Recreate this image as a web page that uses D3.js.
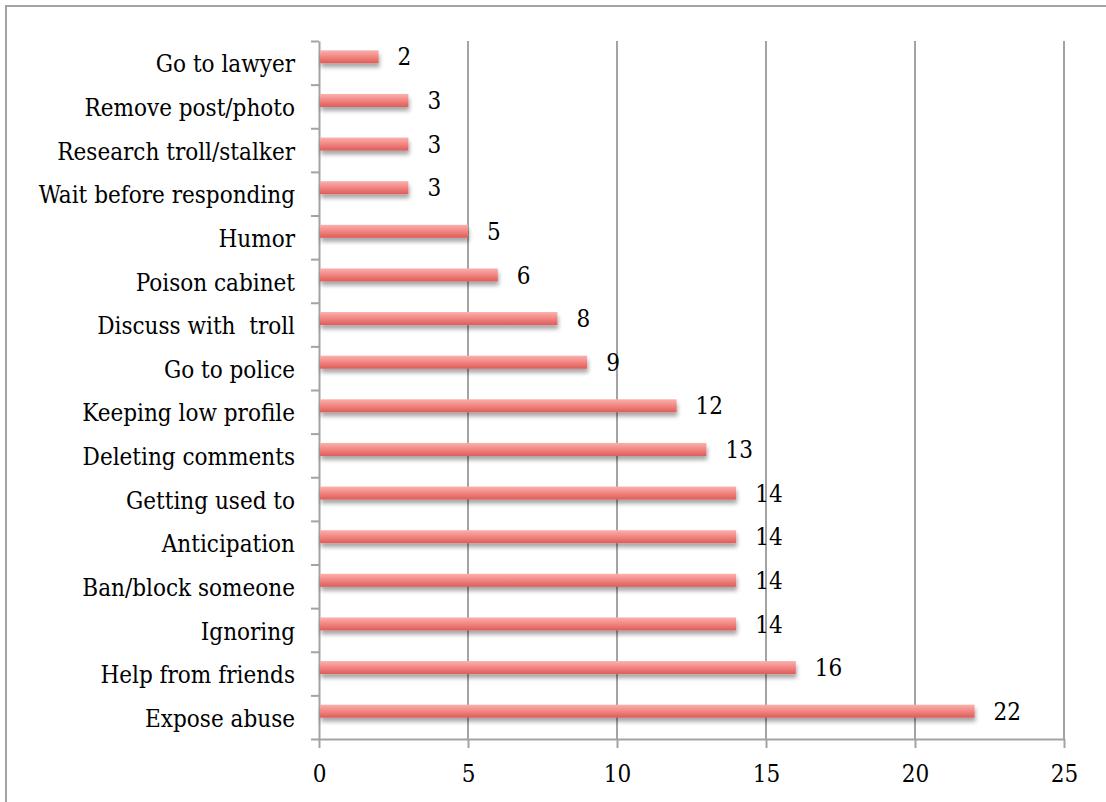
<!DOCTYPE html>
<html>
<head>
<meta charset="utf-8">
<script src="https://cdn.jsdelivr.net/npm/d3@7"></script>
<style>
  html, body { margin: 0; padding: 0; background: #fff; }
  svg { display: block; }
  text { font-family: "DejaVu Serif Condensed", "DejaVu Serif", serif; fill: #000; white-space: pre; }
</style>
</head>
<body>
<svg id="chart" width="1106" height="802"></svg>
<script>
// Coping strategies (top to bottom) and how many respondents mentioned each
const categories = [
  "Go to lawyer", "Remove post/photo", "Research troll/stalker", "Wait before responding",
  "Humor", "Poison cabinet", "Discuss with  troll", "Go to police",
  "Keeping low profile", "Deleting comments", "Getting used to", "Anticipation",
  "Ban/block someone", "Ignoring", "Help from friends", "Expose abuse"
];
const counts = [2, 3, 3, 3, 5, 6, 8, 9, 12, 13, 14, 14, 14, 14, 16, 22];
const xTicks = [0, 5, 10, 15, 20, 25];

const FONT = "DejaVu Serif Condensed, DejaVu Serif, serif";
const svg = d3.select("#chart");
const W = 1106, H = 802;
const margin = { left: 319, right: 42, top: 41, bottom: 63 };
const plotW = W - margin.left - margin.right;
const plotH = H - margin.top - margin.bottom;

// Outer frame
svg.append("rect")
  .attr("x", 6).attr("y", 6).attr("width", 1200).attr("height", 900)
  .attr("fill", "none").attr("stroke", "#a3a3a3").attr("stroke-width", 2);

const defs = svg.append("defs");
const grad = defs.append("linearGradient").attr("id", "barFill")
  .attr("x1", 0).attr("y1", 0).attr("x2", 0).attr("y2", 1);
grad.append("stop").attr("offset", "0%").attr("stop-color", "#fbb0ad");
grad.append("stop").attr("offset", "55%").attr("stop-color", "#f0817d");
grad.append("stop").attr("offset", "100%").attr("stop-color", "#dc5d58");

const shadow = defs.append("filter").attr("id", "barShadow")
  .attr("x", "-5%").attr("y", "-50%").attr("width", "115%").attr("height", "250%");
shadow.append("feGaussianBlur").attr("in", "SourceAlpha").attr("stdDeviation", 2.2).attr("result", "blur");
shadow.append("feOffset").attr("in", "blur").attr("dx", 1).attr("dy", 4).attr("result", "off");
shadow.append("feComponentTransfer").attr("in", "off").attr("result", "soft")
  .append("feFuncA").attr("type", "linear").attr("slope", 0.35);
const merge = shadow.append("feMerge");
merge.append("feMergeNode").attr("in", "soft");
merge.append("feMergeNode").attr("in", "SourceGraphic");

const g = svg.append("g").attr("transform", `translate(${margin.left},${margin.top})`);

const x = d3.scaleLinear().domain([0, 25]).range([0, plotW]);
const y = d3.scaleBand().domain(categories).range([0, plotH]).paddingInner(0).paddingOuter(0);
const yEdges = d3.scaleLinear().domain([0, categories.length]).range([0, plotH]);

// Vertical gridlines
g.append("g").selectAll("line")
  .data(xTicks.filter(t => t > 0))
  .join("line")
  .attr("x1", d => x(d)).attr("x2", d => x(d))
  .attr("y1", 0).attr("y2", plotH)
  .attr("stroke", "#a3a3a3").attr("stroke-width", 2);

// X axis
const xAxis = g.append("g").attr("transform", `translate(0,${plotH})`)
  .call(d3.axisBottom(x).tickValues(xTicks).tickSize(9).tickPadding(17).tickSizeOuter(0));
xAxis.select(".domain").attr("stroke", "#a3a3a3").attr("stroke-width", 2);
xAxis.selectAll(".tick line").attr("stroke", "#a3a3a3").attr("stroke-width", 2);
xAxis.selectAll(".tick text")
  .attr("font-family", FONT)
  .attr("font-size", 24).attr("fill", "#000");

// Y axis: ticks on category boundaries
const yAxis = g.append("g")
  .call(d3.axisLeft(yEdges).tickValues(d3.range(0, categories.length + 1)).tickSize(8).tickFormat("").tickSizeOuter(0));
yAxis.select(".domain").attr("stroke", "#a3a3a3").attr("stroke-width", 2);
yAxis.selectAll(".tick line").attr("stroke", "#a3a3a3").attr("stroke-width", 2);

// Category labels
g.append("g").selectAll("text")
  .data(categories)
  .join("text")
  .attr("x", -24)
  .attr("y", d => y(d) + y.bandwidth() / 2)
  .attr("dy", "0.4em")
  .attr("text-anchor", "end")
  .attr("font-size", 24)
  .text(d => d);

const barH = 13;
const barOff = -6;

// Bars
g.append("g").selectAll("rect")
  .data(categories)
  .join("rect")
  .attr("x", x(0) + 1)
  .attr("y", d => y(d) + y.bandwidth() / 2 + barOff - barH / 2)
  .attr("width", (d, i) => x(counts[i]) - x(0) - 1)
  .attr("height", barH)
  .attr("fill", "url(#barFill)")
  .attr("filter", "url(#barShadow)");

// Value labels
g.append("g").selectAll("text")
  .data(categories)
  .join("text")
  .attr("x", (d, i) => x(counts[i]) + 19)
  .attr("y", d => y(d) + y.bandwidth() / 2 + barOff)
  .attr("dy", "0.36em")
  .attr("text-anchor", "start")
  .attr("font-size", 24)
  .text((d, i) => counts[i]);
</script>
</body>
</html>
